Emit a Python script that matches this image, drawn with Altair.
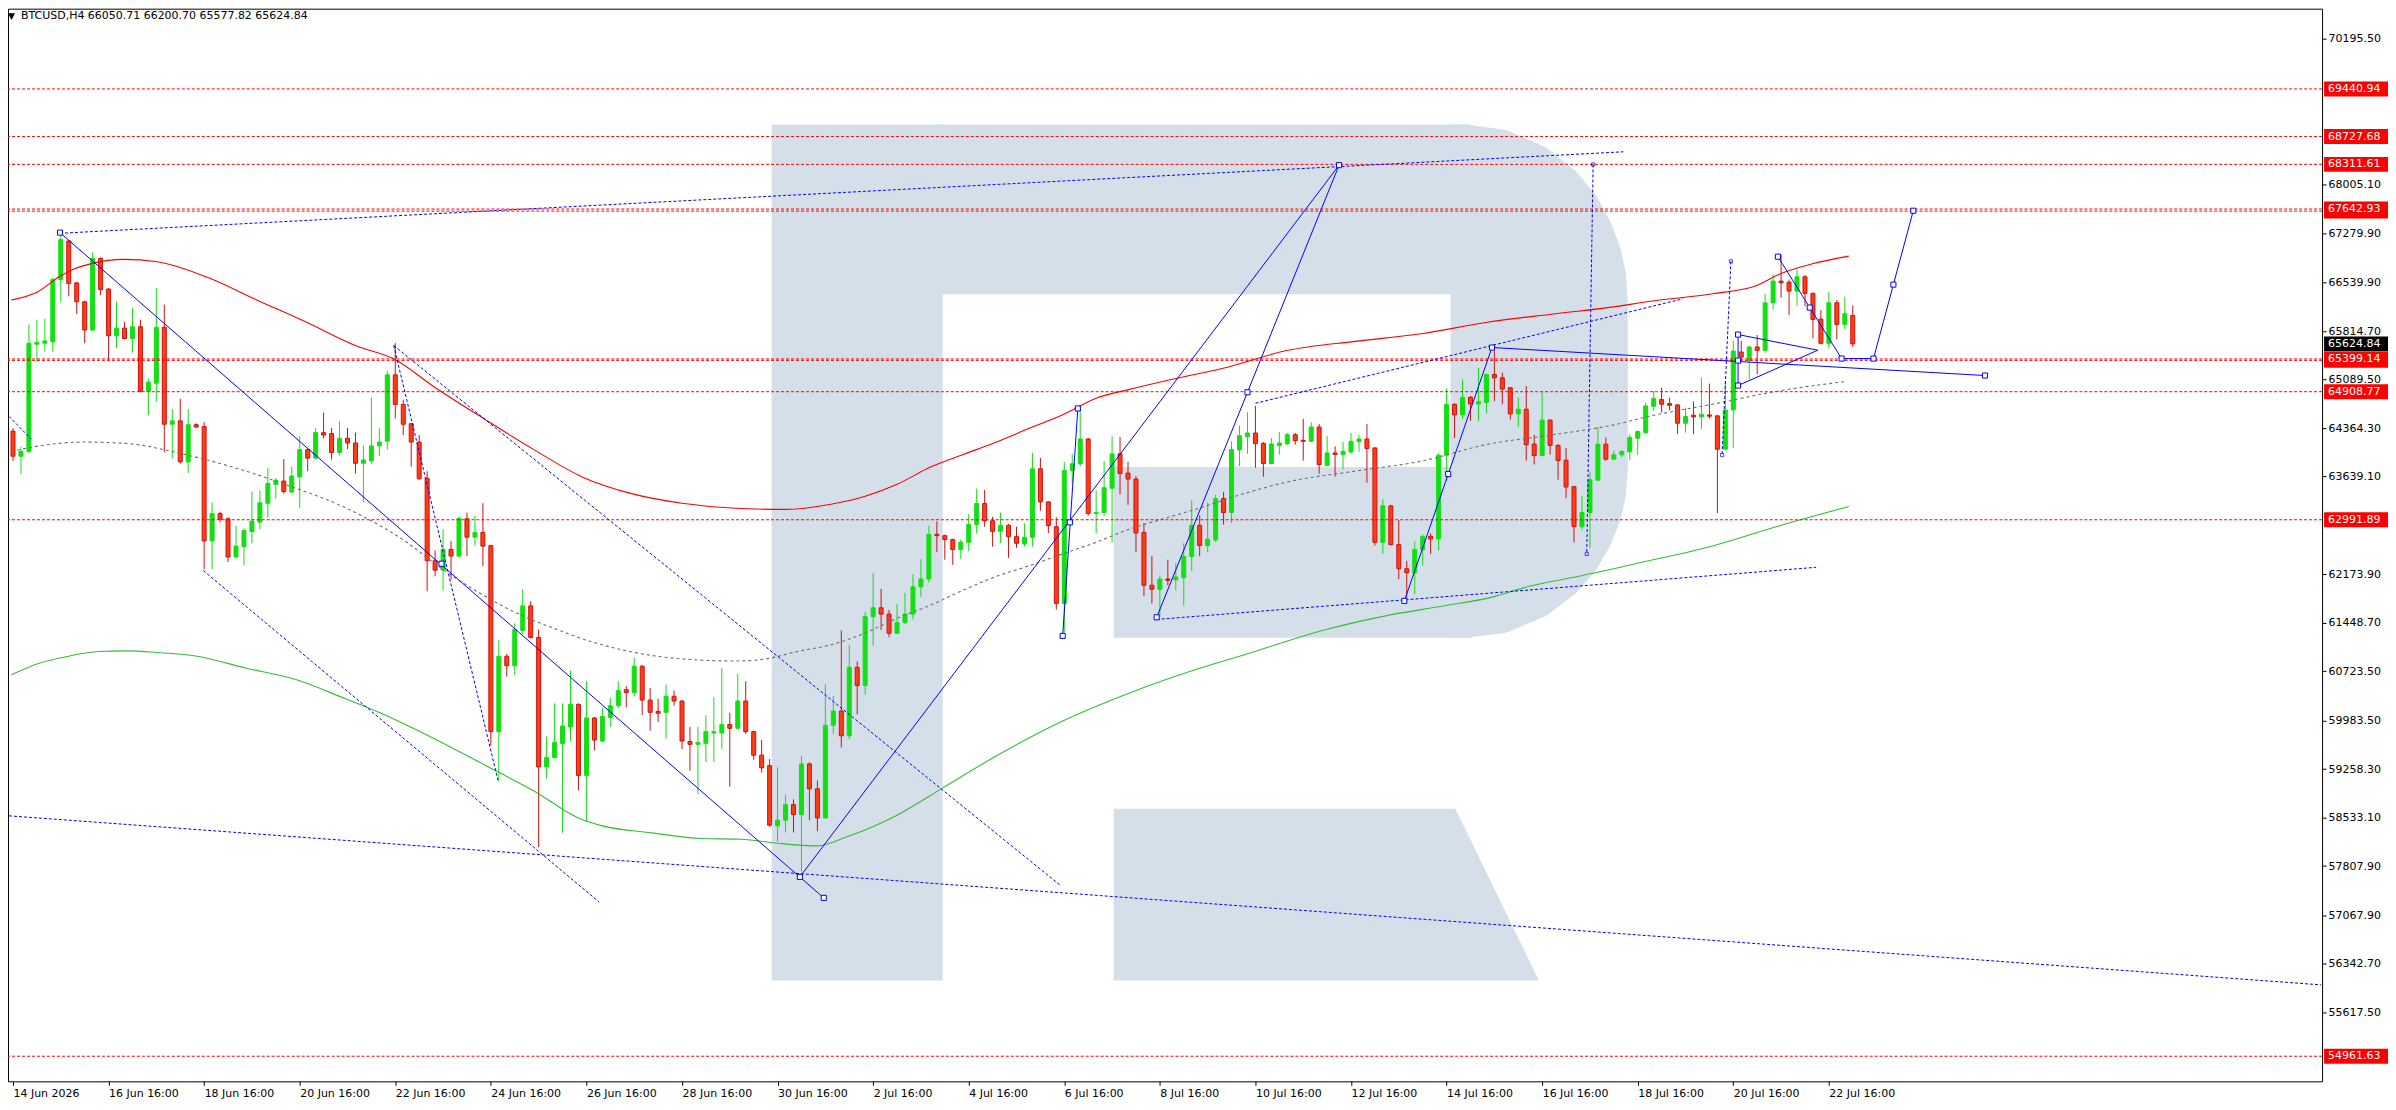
import altair as alt
import pandas as pd

# ---------------- data ----------------
OPEN = [64317,63943,64014,65620,65635,65656,66586,67164,66537,66255,65832,66903,66445,65747,65860,65705,65881,64916,65036,65874,
        64422,64472,63859,64415,64387,62675,63084,63006,62435,62590,62816,62957,63239,63521,63570,63408,63633,64042,63915,64296,
        64282,63999,64211,64141,63838,63873,64098,64169,65162,64718,64429,64155,63612,62379,62238,62548,62449,63006,62731,62802,
        62604,59821,60949,60808,61336,61702,61230,59292,59433,59645,59891,60229,59165,60025,59680,60032,60208,60448,60406,60800,
        60293,60124,60110,60349,60279,59673,59631,59645,59800,59800,59926,59870,60279,59821,59468,59312,58410,58495,58728,58579,
        59337,58965,58529,59916,60129,59758,60783,60511,61541,61674,61580,61293,61452,61580,61987,62105,62774,62754,62695,62546,
        62655,62923,63235,62977,62819,62908,62739,62630,62729,63755,63259,62888,61739,63730,63829,64201,63086,63101,63463,63978,
        63690,63601,62804,62011,61952,62105,62095,62125,62442,62908,62606,62690,63309,63101,64037,64235,64290,64136,63834,64102,
        64131,64265,64181,64166,64379,63805,63992,63968,64007,64161,64200,64067,62655,63200,62620,62259,62199,62546,62744,62705,
        63958,64720,64562,64825,64725,64750,65166,65117,64968,64577,64646,64126,63953,64483,64106,63883,63487,62888,63101,63585,
        64123,63899,63964,64008,64213,64297,64691,64790,64731,64711,64437,64557,64532,64561,64547,64048,64636,65503,65379,65578,
        65528,66240,66564,66549,66415,66629,66380,65996,65633,66240,65917,66050.71]
HIGH = [64366,64084,65916,65987,66001,66621,67300,67180,66550,66270,66995,66920,66460,66255,65952,66163,65987,65106,66459,66212,
        64648,64803,64648,64436,64451,63253,63112,63027,62900,62865,63415,63429,63767,63619,63901,63788,64239,64060,64366,64599,
        64366,64465,64366,64296,64098,64817,64366,65226,65635,64789,64440,64260,63718,62534,62851,62675,63041,63098,63055,63239,
        62618,61195,60984,61442,61949,61773,61350,59750,60243,60243,60737,60243,60575,60040,60173,60328,60575,60504,60927,60815,
        60476,60314,60525,60434,60290,59891,59891,60067,60335,60772,60103,60688,60575,59835,59694,59411,59287,58876,58807,59461,
        59361,59089,60525,60352,61333,61120,60872,61615,62195,61957,61640,61729,61897,62175,62403,62903,62967,62770,62710,62695,
        63076,63458,63438,63037,63101,62928,62888,62937,63993,63918,63270,63027,63859,63978,64686,64215,63433,63869,64240,64230,
        63859,63646,62943,62447,62160,62393,62343,62640,63284,63061,63250,63364,63408,64166,64399,64602,64696,64156,64216,64304,
        64290,64290,64503,64453,64424,64250,64092,64156,64290,64265,64424,64080,63299,63215,62988,62376,62670,62769,62789,63992,
        64958,64735,65092,64845,65265,65181,65587,65196,64980,64825,64993,64265,64909,64495,64120,64067,63500,63348,63710,64382,
        64222,64024,64033,64272,64332,64746,64920,64970,64820,64720,64671,64761,65119,65030,64561,65070,65667,65667,65593,65757,
        66375,66664,66963,66589,66739,66654,66395,66131,66405,66280,66330,66200.70]
LOW = [63873,63676,63990,65353,65508,65508,66255,66339,66072,65635,65815,66353,65367,65564,65690,65494,64900,64556,64754,63999,
       63908,63831,63690,64366,62252,62252,62957,62358,62428,62308,62640,62851,63027,63309,63380,63394,63168,63718,63901,64211,
       63894,63957,64049,63683,63253,63831,63943,64042,64507,64260,63788,63591,61921,62146,61935,62097,62428,62449,62604,62301,
       59609,59081,60645,60667,61280,61215,58094,59116,59419,58306,59680,58940,58482,59539,59666,59891,60173,60187,60349,60067,
       59835,59962,59715,60208,59560,59236,58884,59363,59363,59560,58996,59856,59786,59398,59208,58396,58173,58311,58311,57727,
       58495,58331,58520,59783,59584,59708,60080,60377,61105,61343,61234,61283,61432,61501,61838,62051,62507,62393,62318,62408,
       62521,62789,62888,62591,62645,62422,62571,62591,62591,63126,62794,61650,61303,63532,63795,63051,62789,63051,62655,63373,
       63215,62507,61848,61739,61541,62011,61937,61699,62224,62447,62507,62655,62918,62943,63794,63978,63770,63636,63819,63968,
       64106,64116,63878,64156,63680,63795,63636,63745,63978,64007,63547,62606,62481,62606,62102,61823,61877,62309,62481,62532,
       63571,64215,64503,64473,64473,64587,64770,64720,64488,64379,63878,63819,63940,63968,63591,63314,62655,62838,62571,63570,
       63874,63885,63924,63884,63964,64282,64621,64596,64631,64272,64297,64272,64347,64507,63092,64030,64063,65379,65094,65169,
       65493,66141,66315,66056,66201,66191,65707,65618,65558,65692,65842,65577.82]
CLOSE = [63943,64014,65635,65649,65669,66586,67185,66530,66255,65832,66903,66438,65747,65860,65705,65881,64916,65050,65874,64422,
         64472,63859,64415,64380,62675,63084,62999,62435,62597,62830,62971,63246,63535,63584,63415,63647,64042,63915,64296,64260,
         63999,64211,64141,63838,63887,64098,64155,65162,64718,64422,64155,63605,62379,62238,62548,62449,63013,62731,62802,62597,
         59821,60949,60808,61350,61702,61230,59292,59433,59659,59905,60229,59165,60025,59694,60046,60208,60434,60406,60800,60293,
         60110,60096,60349,60279,59680,59631,59659,59821,59821,59926,59870,60279,59821,59468,59278,58420,58495,58728,58579,59337,
         58965,58529,59916,60129,59758,60783,60511,61541,61674,61580,61293,61452,61580,61987,62105,62774,62754,62695,62546,62655,
         62923,63235,62977,62819,62908,62739,62640,62729,63755,63259,62903,61739,63730,63829,64201,63086,63101,63472,63978,63685,
         63601,62794,62011,61952,62105,62086,62135,62442,62908,62606,62700,63309,63101,64042,64250,64290,64131,63834,64126,64141,
         64265,64176,64166,64379,63819,63992,63968,64017,64166,64200,64057,62655,63200,62620,62259,62199,62546,62744,62705,63958,
         64720,64562,64825,64725,64760,65166,65117,64948,64577,64646,64116,63953,64483,64106,63878,63482,62888,63101,63591,64123,
         63899,63964,64013,64223,64312,64696,64805,64721,64706,64437,64537,64532,64571,64542,64048,64636,65518,65428,65578,65528,
         66240,66564,66539,66415,66629,66380,65991,65633,66240,65917,66076,65624.84]

X_LABELS = ["14 Jun 2026", "16 Jun 16:00", "18 Jun 16:00", "20 Jun 16:00", "22 Jun 16:00", "24 Jun 16:00",
            "26 Jun 16:00", "28 Jun 16:00", "30 Jun 16:00", "2 Jul 16:00", "4 Jul 16:00", "6 Jul 16:00",
            "8 Jul 16:00", "10 Jul 16:00", "12 Jul 16:00", "14 Jul 16:00", "16 Jul 16:00", "18 Jul 16:00",
            "20 Jul 16:00", "22 Jul 16:00"]
Y_TICKS = [70195.50, 68005.10, 67279.90, 66539.90, 65814.70, 65089.50, 64364.30, 63639.10,
           62173.90, 61448.70, 60723.50, 59983.50, 59258.30, 58533.10, 57807.90, 57067.90, 56342.70,
           55617.50]

LEVELS = [69440.94, 68727.68, 68311.61, 67642.93, 67612.00, 65399.14, 65378.00, 64908.77, 62991.89, 54961.63]
LABEL_LEVELS = [69440.94, 68727.68, 68311.61, 67612.00, 67642.93, 65378.00, 65399.14, 64908.77, 62991.89, 54961.63]
LABEL_TEXT = ["69440.94", "68727.68", "68311.61", "", "67642.93", "", "65399.14", "64908.77", "62991.89", "54961.63"]
LAST_PRICE = 65624.84
HEADER = "BTCUSD,H4  66050.71 66200.70 65577.82 65624.84"

RED_MA_X = [-0.2, 3.2, 5.7, 7.6, 10.1, 13.8, 18.1, 24.4, 30.6, 36.8, 43, 48, 52.9, 59.1, 65.3, 71.6, 77.8, 84, 90.2,
            96.9, 102.7, 106.9, 111, 115.2, 119.3, 123.5, 127.7, 131.8, 136, 140.2, 146, 151.8, 160.1, 168.5, 176.8,
            185.1, 193.4, 201.7, 205.1, 213.4, 218.8, 221.7, 225.9, 230.5]
RED_MA_Y = [66283, 66410, 66621, 66741, 66833, 66889, 66854, 66621, 66283, 65952, 65599, 65388, 64980, 64507, 64049,
            63626, 63379, 63239, 63168, 63147, 63225, 63339, 63522, 63780, 63968, 64156, 64364, 64562, 64810, 64944,
            65107, 65255, 65528, 65662, 65776, 65949, 66073, 66190, 66255, 66375, 66490, 66664, 66823, 66938]
GREEN_MA_X = [-0.2, 3.2, 7, 10.7, 14.4, 18.1, 23.1, 29.3, 35.5, 41.7, 46.7, 52.9, 59.1, 65.3, 71.5, 74, 80.2, 86.5,
              91.4, 96, 101, 104.8, 111, 116.9, 123.5, 131.8, 140.2, 148.5, 154.3, 164.9, 172.2, 179.5, 185.6, 190.5,
              196.8, 205.1, 213.4, 221.7, 230.5]
GREEN_MA_Y = [60670, 60840, 60950, 61020, 61030, 61005, 60950, 60770, 60600, 60315, 60070, 59715, 59330, 58940, 58500,
              58410, 58305, 58220, 58210, 58150, 58110, 58250, 58570, 58990, 59460, 59980, 60400, 60750, 60960, 61350,
              61550, 61700, 61830, 62000, 62150, 62370, 62600, 62900, 63190]
GRAY_MA_X = [-0.2, 2, 5.7, 8.8, 11.9, 16.3, 19.4, 23.7, 29.3, 35.5, 40.5, 44.2, 49.2, 53.5, 58.5, 64.1, 67.8, 72.8,
             79, 85.2, 90.8, 94.4, 98.5, 102.7, 106.9, 111, 115.2, 119.3, 123.5, 127.7, 131.8, 136, 140.2, 144.3,
             148.5, 154.3, 160.1, 168.5, 176.8, 185.1, 193.4, 201.7, 205.1, 213.4, 221.7, 230]
GRAY_MA_Y = [64014, 64070, 64134, 64155, 64148, 64106, 64028, 63908, 63718, 63464, 63239, 63027, 62675, 62288, 61900,
             61547, 61372, 61160, 60984, 60899, 60878, 60907, 61021, 61120, 61293, 61516, 61714, 61937, 62145, 62308,
             62482, 62655, 62853, 63002, 63150, 63373, 63560, 63720, 63869, 64120, 64265, 64430, 64532, 64721, 64920,
             65060]

# solid blue wave lines (segment id, x in bars, price)
WAVE_ID = [1, 1, 2, 2, 3, 3, 4, 4, 5, 5, 6, 6, 7, 7, 7, 7, 8, 8, 8, 8, 8, 8]
WAVE_X = [5.9, 101.8, 98.8, 166.5, 166.5, 143.6, 131.8, 133.7, 174.7, 185.7, 185.7, 247.6,
          216.6, 226.6, 216.6, 216.6, 221.6, 225.6, 229.6, 233.6, 236.1, 238.6]
WAVE_Y = [67290, 57332, 57646, 68300, 68300, 61532, 61254, 64658, 61778, 65570, 65570, 65151,
          65764, 65530, 65001, 65764, 66930, 66168, 65405, 65405, 66512, 67618]
NODE_X = [5.9, 53.8, 98.8, 101.8, 166.5, 155.0, 143.6, 131.8, 132.7, 133.7, 174.7, 180.2, 185.7, 247.6,
          216.6, 216.6, 216.6, 221.6, 225.6, 229.6, 233.6, 236.1, 238.6]
NODE_Y = [67290, 62334, 57646, 57332, 68300, 64900, 61532, 61254, 62953, 64658, 61778, 63676, 65570, 65151,
          65764, 65375, 65001, 66930, 66168, 65405, 65405, 66512, 67618]
TICK_NODE_X = [198.4, 197.6, 215.7, 214.6]
TICK_NODE_Y = [68310, 62480, 66860, 63960]

# dashed blue trend lines
DASH_ID = [1, 1, 2, 2, 3, 3, 4, 4, 5, 5, 6, 6, 7, 7, 8, 8, 9, 9, 10, 10]
DASH_X = [5.9, 202.2, -0.5, 289.8, -0.5, 2.3, 23.9, 73.6, 47.8, 131.5, 47.8, 60.9, 143.6, 226.4,
          156.0, 209.7, 198.4, 197.6, 215.7, 214.6]
DASH_Y = [67280, 68500, 58560, 56030, 64540, 64199, 62230, 57270, 65600, 57520, 65600, 59090, 61500, 62280,
          64735, 66300, 68310, 62480, 66860, 63960]

# watermark "R" geometry in (bar, price) units
LOGO_R_X1 = [95.26, 116.0, 180.5, 138.2]
LOGO_R_X2 = [116.73, 183.0, 183.0, 183.0]
LOGO_R_Y1 = [68908, 68908, 68908, 63781]
LOGO_R_Y2 = [56097, 66367, 61225, 61225]
LOGO_CURVE_X = [182.5, 187.5, 192.5, 196.25, 198.75, 200.6, 201.9, 202.5, 202.75]
LOGO_CURVE_TOP = [68908, 68826, 68564, 68209, 67848, 67451, 67039, 66685, 66277]
LOGO_CURVE_BOT = [61224, 61302, 61553, 61893, 62236, 62616, 63008, 63347, 63736]
LOGO_LEG_X = [138.2, 181.1, 191.6]
LOGO_LEG_TOP = [58668, 58668, 56097]
LOGO_LEG_BOT = [56097, 56097, 56097]

# ---------------- styling ----------------
FONT = "DejaVu Sans"
BULL = "#12e012"
BEAR = "#ff3c12"
BEAR_EDGE = "#d01010"
LOGO = "#d4dfea"
BLUE = "#0000ff"

W, H = 2317, 1074
XS = alt.Scale(domain=[0, 289.3], nice=False, zero=False)
YS = alt.Scale(domain=[54586, 70642], nice=False, zero=False)

X_AXIS = alt.Axis(values=[12 * k for k in range(len(X_LABELS))],
                  labelExpr="[" + ",".join("'%s'" % s for s in X_LABELS) + "][round(datum.value / 12)]",
                  grid=False, domain=False, tickColor="black", tickSize=4, labelAlign="left",
                  labelBaseline="top", labelPadding=2, labelFont=FONT, labelFontSize=11, labelColor="black",
                  labelFlush=False, labelOverlap=False, labelBound=False, title=None)
Y_AXIS = alt.Axis(values=Y_TICKS, format=".2f", orient="right", grid=False, domain=False, tickColor="black",
                  tickSize=4, labelPadding=2, labelFont=FONT, labelFontSize=11, labelColor="black",
                  labelBaseline="middle", labelOverlap=False, labelFlush=False, labelBound=False, title=None)


def xq(f):
    return alt.X(f, type="quantitative", scale=XS, axis=X_AXIS)


def yq(f):
    return alt.Y(f, type="quantitative", scale=YS, axis=Y_AXIS)


candles = pd.DataFrame({"i": list(range(len(OPEN))), "o": OPEN, "h": HIGH, "l": LOW, "c": CLOSE})

logo_rect = alt.Chart(pd.DataFrame({"x1": LOGO_R_X1, "x2": LOGO_R_X2, "y1": LOGO_R_Y1, "y2": LOGO_R_Y2})).mark_rect(
    color=LOGO, clip=True).encode(x=xq("x1"), x2="x2", y=yq("y1"), y2="y2")

logo_area_df = pd.DataFrame({
    "x": LOGO_CURVE_X + LOGO_LEG_X,
    "t": LOGO_CURVE_TOP + LOGO_LEG_TOP,
    "b": LOGO_CURVE_BOT + LOGO_LEG_BOT,
    "s": ["curve"] * len(LOGO_CURVE_X) + ["leg"] * len(LOGO_LEG_X),
})
logo_area = alt.Chart(logo_area_df).mark_area(color=LOGO, clip=True, interpolate="linear").encode(
    x=xq("x"), y=yq("t"), y2="b", detail="s:N")

wicks = alt.Chart(candles).mark_rule(strokeWidth=1, clip=True).encode(
    x=xq("i"), y=yq("l"), y2="h",
    color=alt.condition("datum.c >= datum.o", alt.value(BULL), alt.value(BEAR_EDGE)),
)
bodies = alt.Chart(candles).mark_bar(width=4, strokeWidth=1, clip=True).encode(
    x=xq("i"), y=yq("o"), y2="c",
    fill=alt.condition("datum.c >= datum.o", alt.value(BULL), alt.value(BEAR)),
    stroke=alt.condition("datum.c >= datum.o", alt.value(BULL), alt.value(BEAR_EDGE)),
)

levels = alt.Chart(pd.DataFrame({"v": LEVELS})).mark_rule(
    color="#ff0000", strokeWidth=1, strokeDash=[3, 2], clip=True).encode(y=yq("v"))

red_ma = alt.Chart(pd.DataFrame({"x": RED_MA_X, "y": RED_MA_Y})).mark_line(
    color="#ff0000", strokeWidth=1.1, clip=True, interpolate="monotone").encode(x=xq("x"), y=yq("y"))
green_ma = alt.Chart(pd.DataFrame({"x": GREEN_MA_X, "y": GREEN_MA_Y})).mark_line(
    color="#35bd35", strokeWidth=1.1, clip=True, interpolate="monotone").encode(x=xq("x"), y=yq("y"))
gray_ma = alt.Chart(pd.DataFrame({"x": GRAY_MA_X, "y": GRAY_MA_Y})).mark_line(
    color="#6e6e6e", strokeWidth=1.1, strokeDash=[3, 3], clip=True, interpolate="monotone").encode(
    x=xq("x"), y=yq("y"))

wave_df = pd.DataFrame({"id": WAVE_ID, "x": WAVE_X, "y": WAVE_Y, "k": list(range(len(WAVE_X)))})
waves = alt.Chart(wave_df).mark_line(color=BLUE, strokeWidth=1, clip=True).encode(
    x=xq("x"), y=yq("y"), detail="id:N", order="k:Q")
dash_df = pd.DataFrame({"id": DASH_ID, "x": DASH_X, "y": DASH_Y, "k": list(range(len(DASH_X)))})
dashes = alt.Chart(dash_df).mark_line(color=BLUE, strokeWidth=1, strokeDash=[3, 2], clip=True).encode(
    x=xq("x"), y=yq("y"), detail="id:N", order="k:Q")

nodes = alt.Chart(pd.DataFrame({"x": NODE_X, "y": NODE_Y})).mark_point(
    shape="square", size=26, filled=True, fill="white", stroke=BLUE, strokeWidth=1, opacity=1, clip=True).encode(
    x=xq("x"), y=yq("y"))
tick_nodes = alt.Chart(pd.DataFrame({"x": TICK_NODE_X, "y": TICK_NODE_Y})).mark_point(
    shape="square", size=10, filled=False, stroke=BLUE, strokeWidth=1, clip=True).encode(x=xq("x"), y=yq("y"))

lab_df = pd.DataFrame({"v": LABEL_LEVELS, "t": LABEL_TEXT})
lab_df["lo"] = lab_df["v"] - 112
lab_df["hi"] = lab_df["v"] + 112
lab_box = alt.Chart(lab_df).mark_rect(color="#ff0000").encode(
    x=alt.value(W + 2), x2=alt.value(W + 66), y=yq("lo"), y2="hi")
lab_txt = alt.Chart(lab_df).mark_text(align="left", baseline="middle", font=FONT, fontSize=11,
                                      color="white").encode(x=alt.value(W + 6), y=yq("v"), text="t:N")
cur_df = pd.DataFrame({"v": [LAST_PRICE], "t": ["%.2f" % LAST_PRICE]})
cur_df["lo"] = cur_df["v"] - 112
cur_df["hi"] = cur_df["v"] + 112
cur_box = alt.Chart(cur_df).mark_rect(color="black").encode(
    x=alt.value(W + 2), x2=alt.value(W + 66), y=yq("lo"), y2="hi")
cur_txt = alt.Chart(cur_df).mark_text(align="left", baseline="middle", font=FONT, fontSize=11,
                                      color="white").encode(x=alt.value(W + 6), y=yq("v"), text="t:N")

head_df = pd.DataFrame({"t": [HEADER], "m": ["\u25bc"]})
header = alt.Chart(head_df).mark_text(align="left", baseline="middle", font=FONT, fontSize=11,
                                      color="black").encode(x=alt.value(13), y=alt.value(7), text="t:N")
marker = alt.Chart(head_df).mark_text(align="left", baseline="middle", font=FONT, fontSize=9,
                                      color="black").encode(x=alt.value(0), y=alt.value(7), text="m:N")

chart = alt.layer(
    logo_rect, logo_area, wicks, bodies, red_ma, green_ma, gray_ma, levels, dashes, waves, nodes, tick_nodes,
    lab_box, lab_txt, cur_box, cur_txt, header, marker,
).properties(
    width=W, height=H, padding={"left": 0, "top": 0, "right": 0, "bottom": 0}, background="white"
).configure_view(stroke="black", strokeWidth=1)

chart.save("out.html", embed_options={"renderer": "svg", "actions": False})
